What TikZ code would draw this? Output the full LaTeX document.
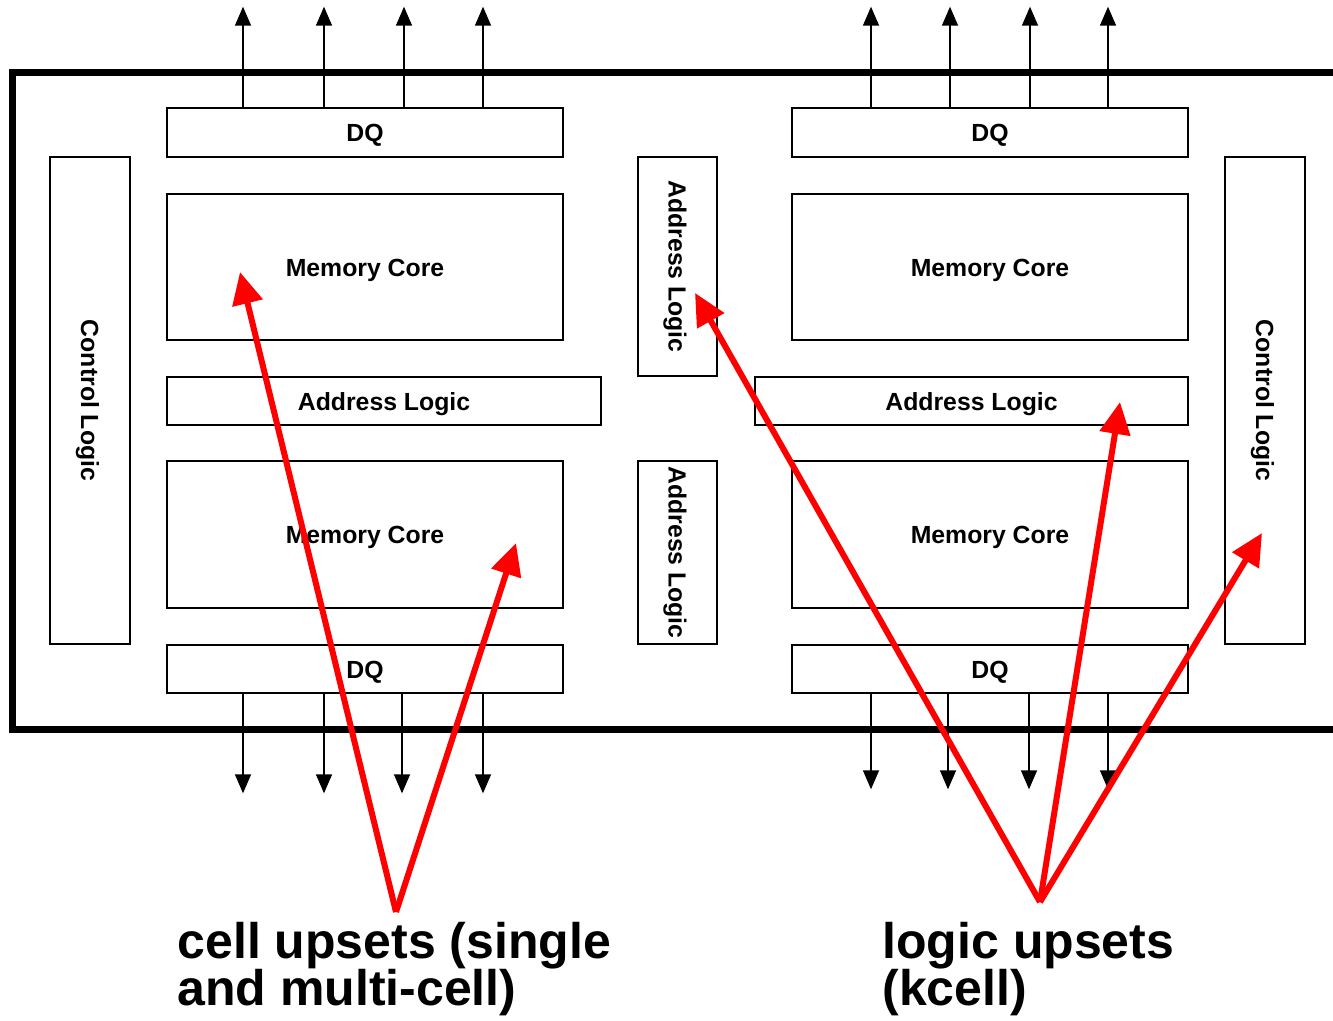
\documentclass[tikz,border=0pt]{standalone}
\usepackage{fontspec}
\setmainfont{Liberation Sans}
\usetikzlibrary{arrows.meta}

\begin{document}
\begin{tikzpicture}[
  x=1pt, y=-1pt,
  every node/.style={font=\fontsize{24.8}{26}\selectfont\bfseries},
  blk/.style={draw,line width=2.6pt,inner sep=0pt,align=center,
              text height=18pt,text depth=0pt},
  vblk/.style={blk,rotate=-90},
  frame/.style={line width=7pt,line join=miter},
  sig/.style={-{Triangle[length=19pt,width=16pt]},line width=1.5pt},
  hit/.style={-{Triangle[length=32pt,width=30pt]},line width=6pt,red},
  upset/.style={anchor=base west,align=left,font=\fontsize{50}{47}\selectfont\bfseries},
]
  \useasboundingbox (0,0) rectangle (1333,1020);

  % Chip outline (open to the right)
  \draw[frame] (1333,72) -- (12,72) -- (12,729) -- (1333,729);

  % Left bank
  \node[vblk,minimum width=487pt,minimum height=80pt] (ctll) at (90,400.5) {Control Logic};
  \node[blk,minimum width=396pt,minimum height=49pt]  (dqtl) at (365,132.5) {DQ};
  \node[blk,minimum width=396pt,minimum height=146pt] (mctl) at (365,267) {Memory Core};
  \node[blk,minimum width=434pt,minimum height=48pt]  (altl) at (384,401) {Address Logic};
  \node[blk,minimum width=396pt,minimum height=147pt] (mcbl) at (365,534.5) {Memory Core};
  \node[blk,minimum width=396pt,minimum height=48pt]  (dqbl) at (365,669) {DQ};

  % Middle address logic
  \node[vblk,minimum width=219pt,minimum height=79pt] (almt) at (677.5,266.5) {Address Logic};
  \node[vblk,minimum width=183pt,minimum height=79pt] (almb) at (677.5,552.5) {Address Logic};

  % Right bank
  \node[blk,minimum width=396pt,minimum height=49pt]  (dqtr) at (990,132.5) {DQ};
  \node[blk,minimum width=396pt,minimum height=146pt] (mctr) at (990,267) {Memory Core};
  \node[blk,minimum width=433pt,minimum height=48pt]  (altr) at (971.5,401) {Address Logic};
  \node[blk,minimum width=396pt,minimum height=147pt] (mcbr) at (990,534.5) {Memory Core};
  \node[blk,minimum width=396pt,minimum height=48pt]  (dqbr) at (990,669) {DQ};
  \node[vblk,minimum width=487pt,minimum height=80pt] (ctlr) at (1265,400.5) {Control Logic};

  % DQ pins
  \foreach \x in {243,324,404,483}
    \draw[sig] (dqtl.north -| \x,0) -- ++(0,-100);
  \foreach \x in {243,324,402,483}
    \draw[sig] (dqbl.south -| \x,0) -- ++(0,99);
  \foreach \x in {871,950,1030,1108}
    \draw[sig] (dqtr.north -| \x,0) -- ++(0,-100);
  \foreach \x in {871,948,1029,1108}
    \draw[sig] (dqbr.south -| \x,0) -- ++(0,95);

  % Upset labels
  \node[upset] (cellu) at (174,1005) {cell upsets (single\\and multi-cell)};
  \node[upset] (logu)  at (879,1005) {logic upsets\\(kcell)};

  % Upset arrows
  \coordinate (cellsrc) at (396,912);
  \coordinate (logsrc)  at (1040,902);
  \coordinate (hmct) at (240,272);
  \coordinate (hmcb) at (516,543);
  \coordinate (halm) at (695,293);
  \coordinate (halr) at (1120,402);
  \coordinate (hctl) at (1262,533);
  \draw[hit] (cellsrc) -- (hmct);
  \draw[hit] (cellsrc) -- (hmcb);
  \draw[hit] (logsrc) -- (halm);
  \draw[hit] (logsrc) -- (halr);
  \draw[hit] (logsrc) -- (hctl);
\end{tikzpicture}
\end{document}
